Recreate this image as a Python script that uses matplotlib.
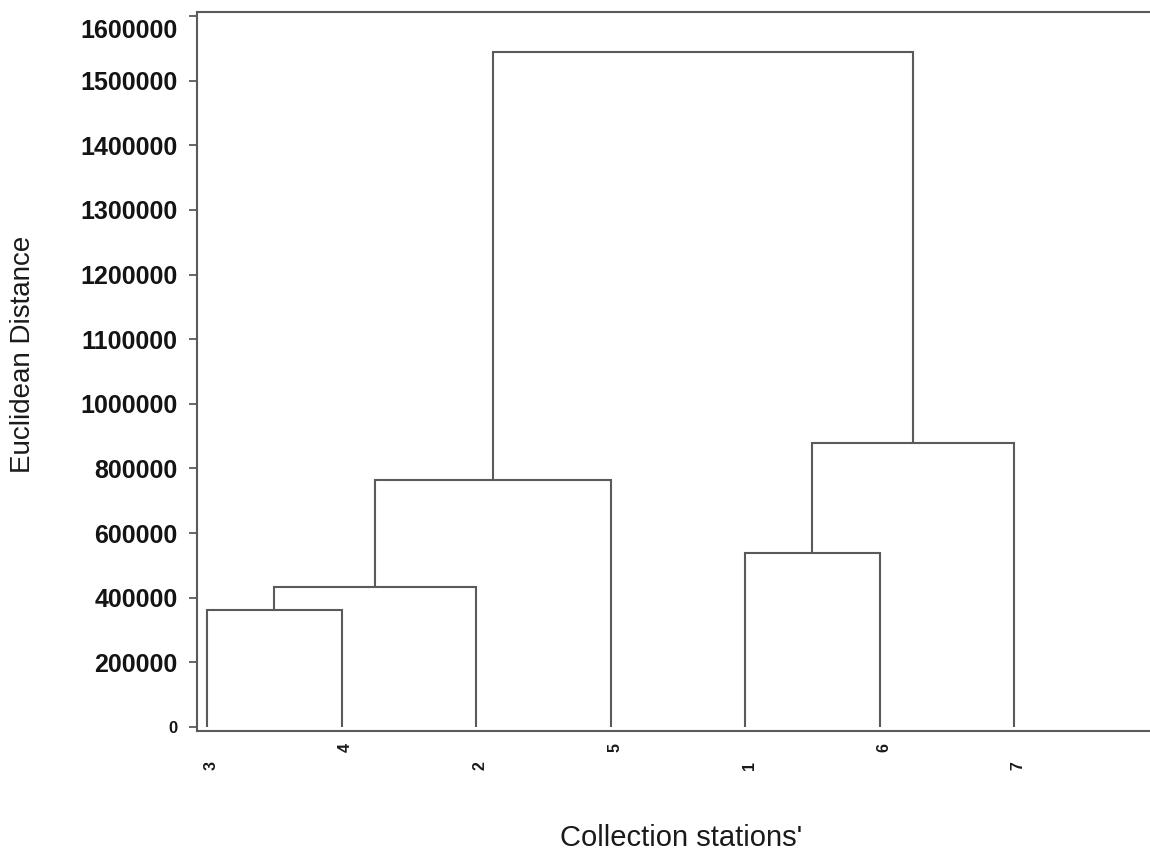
import numpy as np
import matplotlib
matplotlib.use("Agg")
import matplotlib.pyplot as plt
import matplotlib.transforms as mtransforms

# ---------------- data ----------------
leaf_order = ["3", "4", "2", "5", "1", "6", "7"]
# merges: (left member, right member, height); members are leaf names or merge ids "m0".."m5"
merge_left = ["3", "m0", "m1", "1", "m3", "m2"]
merge_right = ["4", "2", "5", "6", "7", "m4"]
merge_height = [362000, 433000, 765000, 539000, 879000, 1545000]

# y tick labels as printed on the original axis (evenly spaced ticks)
ytick_values = [0, 200000, 400000, 600000, 800000, 1000000, 1100000,
                1200000, 1300000, 1400000, 1500000, 1600000]
ytick_labels = [str(v) for v in ytick_values]

xlabel = "Collection stations'"
ylabel = "Euclidean Distance"

# ---------------- scale (evenly spaced ticks with uneven labels) ----------------
ext_vals = np.array([-200000] + ytick_values + [1700000], dtype=float)
ext_idx = np.arange(-1, len(ytick_values) + 1, dtype=float)


def fwd(v):
    return np.interp(v, ext_vals, ext_idx)


def inv(i):
    return np.interp(i, ext_idx, ext_vals)


plt.rcParams['font.family'] = ['Liberation Sans', 'DejaVu Sans']

fig = plt.figure(figsize=(11.5, 8.52), dpi=100)
W, H = 1150, 852
ax_left, ax_right, ax_top, ax_bottom = 197, 1153, 12, 731
ax = fig.add_axes([ax_left / W, 1 - ax_bottom / H, (ax_right - ax_left) / W,
                   (ax_bottom - ax_top) / H])
ax.set_yscale('function', functions=(fwd, inv))

line_color = '#5a5a5a'
lw = 1.5

# positions of leaves
pos = {name: i + 1 for i, name in enumerate(leaf_order)}
hgt = {name: 0.0 for name in leaf_order}
for k, (a, b, h) in enumerate(zip(merge_left, merge_right, merge_height)):
    xa, xb = pos[a], pos[b]
    ha_, hb_ = hgt[a], hgt[b]
    ax.plot([xa, xa, xb, xb], [ha_, h, h, hb_], color=line_color, lw=lw,
            solid_joinstyle='miter', solid_capstyle='butt')
    pos[f"m{k}"] = (xa + xb) / 2
    hgt[f"m{k}"] = h

# limits
px_per_unit = 134.5
ax.set_xlim(1 - (207 - ax_left) / px_per_unit, 1 + (ax_right - 207) / px_per_unit)
px_per_tick = (727 - 16) / 11
ax.set_ylim(inv(-(ax_bottom - 727) / px_per_tick), inv((727 - ax_top) / px_per_tick))

# ticks
ax.set_xticks([])
ax.set_yticks(ytick_values)
ax.set_yticklabels(ytick_labels)
ax.yaxis.set_minor_locator(matplotlib.ticker.NullLocator())
ax.tick_params(axis='y', direction='out', length=6, width=1.3, color=line_color,
               pad=8, labelsize=18, labelcolor='#141414')
for t in ax.get_yticklabels():
    t.set_fontweight('bold')
    if t.get_text() == "0":
        t.set_fontsize(12)
    if t.get_text() == "1600000":
        t.set_transform(t.get_transform() + mtransforms.ScaledTranslation(0, -12 / 100, fig.dpi_scale_trans))

for s in ax.spines.values():
    s.set_color(line_color)
    s.set_linewidth(1.5)

# leaf labels (staggered, rotated)
trans = ax.get_xaxis_transform()
ah = ax_bottom - ax_top
for i, name in enumerate(leaf_order):
    ypx = 748 if i % 2 == 1 else 766
    ax.text(pos[name] + 4 / px_per_unit, -(ypx - ax_bottom) / ah, name, transform=trans,
            rotation=90, ha='center', va='center', fontsize=11.5,
            fontweight='bold', color='#1a1a1a', clip_on=False)

fig.text(23 / W, 1 - 354 / H, ylabel, rotation=90, ha='center', va='center',
         fontsize=20, color='#1a1a1a')
fig.text(681 / W, 1 - 838 / H, xlabel, ha='center', va='center',
         fontsize=21, color='#1a1a1a')

fig.savefig("out.png", dpi=100)
